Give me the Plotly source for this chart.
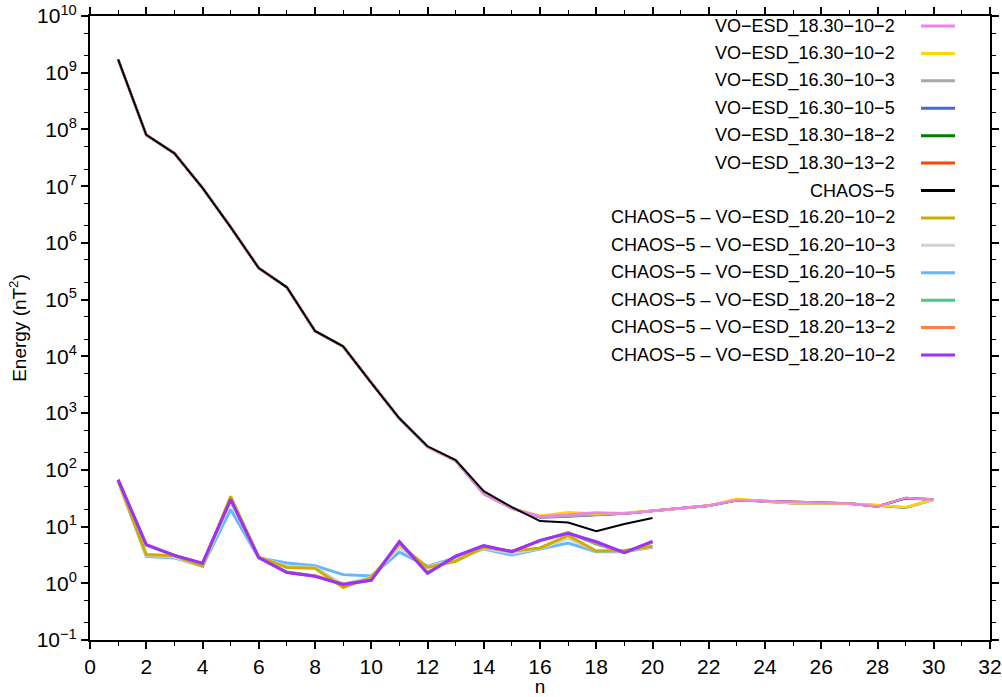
import plotly.graph_objects as go

# ---------------- data ----------------
n_vo = list(range(1, 31))
n_chaos = list(range(1, 21))

chaos5 = [1.72e9, 8.0e7, 3.8e7, 9.3e6, 1.9e6, 3.6e5, 1.65e5, 2.8e4, 1.5e4, 3.4e3,
          8.1e2, 2.6e2, 1.48e2, 42, 22, 12.5, 11.8, 8.3, 11.1, 14.1]

head = [1.72e9, 8.0e7, 3.8e7, 9.3e6, 1.9e6, 3.6e5, 1.65e5, 2.8e4, 1.5e4, 3.4e3,
        8.0e2, 2.55e2, 1.45e2]

vo_18_30_10_2 = head + [38, 21, 15.0, 16.2, 17.6, 17.0, 19.0, 20.7, 23.4, 29.0, 28.0,
                        27.5, 26.5, 25.5, 22.5, 32.0, 30.0]
vo_16_30_10_2 = head + [39, 21, 15.5, 17.8, 17.0, 17.5, 19.0, 20.7, 23.4, 31.0, 28.0,
                        25.7, 25.7, 25.3, 24.0, 21.8, 30.0]
vo_16_30_10_3 = head + [39, 21, 14.6, 15.2, 16.2, 17.0, 18.8, 20.6, 23.2, 30.0, 27.8,
                        25.8, 25.8, 25.3, 23.8, 21.6, 30.0]
vo_16_30_10_5 = head + [39, 21, 14.5, 15.0, 16.0, 17.0, 18.8, 20.6, 23.2, 29.5, 27.8,
                        25.8, 25.8, 25.3, 23.6, 21.4, 30.0]
vo_18_30_18_2 = head + [38, 21, 14.8, 15.5, 16.5, 17.0, 18.9, 20.7, 23.3, 29.0, 28.0,
                        27.3, 26.3, 25.5, 22.6, 31.5, 30.0]
vo_18_30_13_2 = head + [38, 21, 14.9, 15.8, 17.0, 17.0, 19.0, 20.7, 23.4, 29.0, 28.0,
                        27.4, 26.4, 25.5, 22.5, 31.8, 30.0]

d_16_20_10_2 = [65, 3.2, 3.05, 2.0, 34, 2.9, 1.9, 1.84, 0.84, 1.26,
                4.9, 1.9, 2.45, 4.27, 3.7, 4.2, 7.0, 3.7, 3.8, 4.5]
d_16_20_10_3 = [64, 3.1, 2.9, 2.0, 27, 2.85, 2.0, 1.9, 0.95, 1.28,
                4.3, 1.95, 2.6, 4.1, 3.4, 4.1, 6.2, 3.7, 3.7, 4.4]
d_16_20_10_5 = [63, 3.0, 2.8, 2.0, 20, 2.8, 2.28, 2.04, 1.42, 1.35,
                3.55, 2.0, 2.8, 4.0, 3.15, 3.95, 5.1, 3.6, 3.6, 4.3]
d_18_20_18_2 = [66, 4.7, 3.1, 2.2, 31, 2.85, 1.58, 1.35, 0.97, 1.15,
                5.3, 1.55, 2.95, 4.5, 3.6, 5.6, 7.8, 4.9, 3.5, 5.3]
d_18_20_13_2 = [66.5, 4.75, 3.1, 2.22, 30.5, 2.84, 1.56, 1.34, 0.96, 1.14,
                5.35, 1.52, 2.98, 4.55, 3.6, 5.65, 7.7, 5.2, 3.48, 5.4]
d_18_20_10_2 = [67, 4.8, 3.1, 2.25, 30, 2.84, 1.55, 1.33, 0.95, 1.13,
                5.4, 1.5, 3.0, 4.6, 3.6, 5.7, 7.6, 5.4, 3.46, 5.5]

legend_names = ["VO\u2212ESD_18.30\u221210\u22122", "VO\u2212ESD_16.30\u221210\u22122",
                "VO\u2212ESD_16.30\u221210\u22123", "VO\u2212ESD_16.30\u221210\u22125",
                "VO\u2212ESD_18.30\u221218\u22122", "VO\u2212ESD_18.30\u221213\u22122",
                "CHAOS\u22125",
                "CHAOS\u22125 \u2013 VO\u2212ESD_16.20\u221210\u22122",
                "CHAOS\u22125 \u2013 VO\u2212ESD_16.20\u221210\u22123",
                "CHAOS\u22125 \u2013 VO\u2212ESD_16.20\u221210\u22125",
                "CHAOS\u22125 \u2013 VO\u2212ESD_18.20\u221218\u22122",
                "CHAOS\u22125 \u2013 VO\u2212ESD_18.20\u221213\u22122",
                "CHAOS\u22125 \u2013 VO\u2212ESD_18.20\u221210\u22122"]
legend_colors = ["#EE82EE", "#FFD700", "#A9A9A9", "#4169E1", "#008000", "#FF4500",
                 "#000000", "#CDAD00", "#D3D3D3", "#63B8FF", "#43CD80", "#FF8040", "#9B30FF"]
series_values = [vo_18_30_10_2, vo_16_30_10_2, vo_16_30_10_3, vo_16_30_10_5,
                 vo_18_30_18_2, vo_18_30_13_2, chaos5,
                 d_16_20_10_2, d_16_20_10_3, d_16_20_10_5, d_18_20_18_2,
                 d_18_20_13_2, d_18_20_10_2]
series_x = [n_vo] * 6 + [n_chaos] * 7
series_width = [2.5] * 6 + [2] + [3] * 6
# drawing order (index into the lists above)
draw_order = [5, 4, 3, 2, 1, 0, 6, 9, 8, 10, 11, 7, 12]

ytick_vals = [10.0 ** k for k in range(-1, 11)]
ytick_text = ["10<sup>\u22121</sup>"] + ["10<sup>%d</sup>" % k for k in range(0, 11)]
xtick_vals = list(range(0, 33, 2))

FONT = "Arial, Liberation Sans, Helvetica, sans-serif"

fig = go.Figure()
for i in draw_order:
    fig.add_trace(go.Scatter(x=series_x[i], y=series_values[i], mode="lines",
                             name=legend_names[i],
                             line=dict(color=legend_colors[i], width=series_width[i]),
                             showlegend=False))

# manual legend (text right-aligned, line sample on the right)
L_left, L_top, L_w, L_h = 90, 16, 900, 624
for i, (nm, col) in enumerate(zip(legend_names, legend_colors)):
    ypx = 26 + 27.42 * i
    yp = (L_top + L_h - ypx) / L_h
    fig.add_annotation(x=(897 - L_left) / L_w, y=yp, xref="paper", yref="paper",
                       text=nm, showarrow=False, xanchor="right", yanchor="middle",
                       font=dict(family=FONT, size=18, color="#000000"))
    fig.add_shape(type="line", xref="paper", yref="paper",
                  x0=(921 - L_left) / L_w, x1=(955 - L_left) / L_w, y0=yp, y1=yp,
                  line=dict(color=col, width=3))

fig.update_layout(
    width=1002, height=697,
    margin=dict(l=90, r=12, t=16, b=57, autoexpand=False),
    paper_bgcolor="white", plot_bgcolor="white",
    font=dict(family=FONT, size=20, color="#000000"),
    showlegend=False,
)
fig.update_xaxes(range=[0, 32], tickvals=xtick_vals, ticks="outside", ticklen=7,
                 tickwidth=1.5, tickcolor="black", showline=True, linewidth=2,
                 linecolor="black", mirror="ticks", showgrid=False, zeroline=False,
                 automargin=False,
                 minor=dict(dtick=1, ticks="outside", ticklen=4, tickwidth=1.2,
                            tickcolor="black", showgrid=False),
                 tickfont=dict(size=21),
                 title=dict(text="n", font=dict(size=19), standoff=11))
fig.update_yaxes(type="log", range=[-1, 10], tickvals=ytick_vals, ticktext=ytick_text,
                 ticks="outside", ticklen=7, tickwidth=1.5, tickcolor="black",
                 showline=True, linewidth=2, linecolor="black", mirror="ticks",
                 showgrid=False, zeroline=False, automargin=False,
                 minor=dict(ticks="outside", ticklen=4, tickwidth=1.2,
                            tickcolor="black", showgrid=False),
                 tickfont=dict(size=21),
                 title=dict(text="Energy (nT<sup>2</sup>)", font=dict(size=19), standoff=5))

fig.write_html("out.html", config={"displayModeBar": False},
               post_script="document.body.style.margin='0px';document.body.style.overflow='hidden';")
